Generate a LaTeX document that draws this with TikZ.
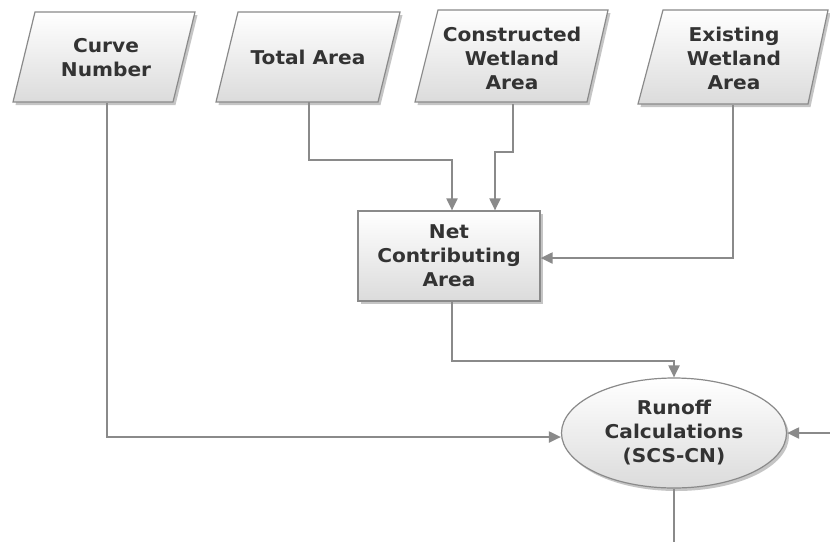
\documentclass[tikz,border=0pt]{standalone}
\usepackage{fontspec}
\setmainfont[FakeStretch=1.06]{DejaVu Sans}
\usetikzlibrary{shadows,arrows.meta,calc,shapes.geometric}
\definecolor{edgec}{HTML}{8A8A8A}
\definecolor{txtc}{HTML}{333333}
\tikzset{
  shapebox/.style={draw=edgec, line width=1.2pt, top color=white, bottom color=gray!28,
    drop shadow={shadow xshift=2.5pt, shadow yshift=-3pt, opacity=0.45}},
  lbl/.style={font=\bfseries\fontsize{19}{24}\selectfont, text=txtc, align=center, inner sep=0pt},
  conn/.style={draw=edgec, line width=2pt, -{Triangle[length=12pt,width=11pt]}},
  plain/.style={draw=edgec, line width=2pt},
}
\begin{document}
\begin{tikzpicture}[x=1pt,y=-1pt]
\fill[white] (0,0) rectangle (830,542);
\useasboundingbox (0,0) rectangle (830,542);
% parallelograms
\path[shapebox] (35,12) -- (195,12) -- (173,102) -- (13,102) -- cycle;
\node[lbl, minimum height=90pt] (cn) at (106,58) {Curve\\Number};
\path[shapebox] (238,12) -- (400,12) -- (378,102) -- (216,102) -- cycle;
\node[lbl, minimum height=90pt] (ta) at (308,57) {Total Area};
\path[shapebox] (438,10) -- (608,10) -- (587,102) -- (415,102) -- cycle;
\node[lbl, minimum height=92pt] (cw) at (512,58) {Constructed\\Wetland\\Area};
\path[shapebox] (663,10) -- (828,10) -- (808,104) -- (638,104) -- cycle;
\node[lbl, minimum height=94pt] (ew) at (734,58) {Existing\\Wetland\\Area};
% box
\node[shapebox, lbl, minimum width=182pt, minimum height=90pt] (nca) at (449,256) {Net\\Contributing\\Area};
% ellipse
\node[shapebox, lbl, ellipse, inner sep=0pt, minimum width=225pt, minimum height=110pt] (roc) at (674,433) {Runoff\\Calculations\\(SCS-CN)};
% connectors
\draw[conn] ([xshift=1pt]cn.south) |- ([yshift=-4pt]roc.west);
\draw[conn] ([xshift=1pt]ta.south) -- ++(0,58) -| ([xshift=3pt]nca.north);
\draw[conn] ([xshift=1pt]cw.south) -- ++(0,48) -| ([xshift=46pt]nca.north);
\draw[conn] ([xshift=-1pt]ew.south) |- ([yshift=-2pt]nca.east);
\draw[conn] ([xshift=3pt]nca.south) -- ++(0,59) -| (roc.north);
\coordinate (rin) at (830,433);
\draw[conn] (rin) -- (roc.east);
\coordinate (bout) at (674,542);
\draw[plain] (roc.south) -- (bout);
\end{tikzpicture}
\end{document}
